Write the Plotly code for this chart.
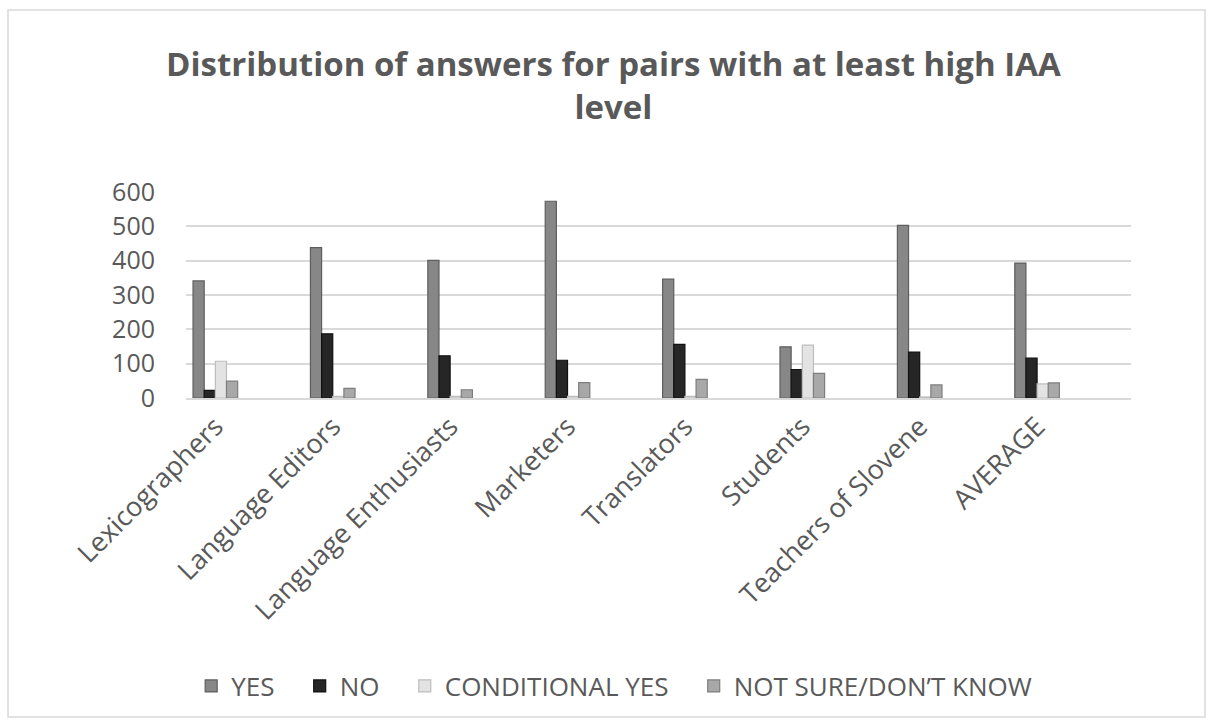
import plotly.graph_objects as go

# Groups of annotators and the answer counts per group
categories = ["Lexicographers", "Language Editors", "Language Enthusiasts", "Marketers",
              "Translators", "Students", "Teachers of Slovene", "AVERAGE"]
yes_vals = [341, 438, 401, 573, 346, 149, 503, 393]
no_vals = [22, 187, 123, 110, 156, 83, 134, 116]
cond_yes_vals = [107, 5, 5, 5, 5, 154, 3, 41]
not_sure_vals = [49, 28, 24, 45, 54, 72, 38, 44]

series = [
    ("YES", yes_vals, "#878787", "#5e5e5e"),
    ("NO", no_vals, "#262626", "#111111"),
    ("CONDITIONAL YES", cond_yes_vals, "#e3e3e3", "#bdbdbd"),
    ("NOT SURE/DON\u2019T KNOW", not_sure_vals, "#a8a8a8", "#7e7e7e"),
]

FONT = "Open Sans"
TEXT = "#595959"
PAD = "\u00a0" * 3  # extra room after each legend entry

# plot-area geometry in pixels
W, H = 1212, 727
L, R, T, B = 186, 1131, 192, 398

fig = go.Figure()
for name, vals, col, edge in series:
    fig.add_trace(go.Bar(
        x=categories, y=vals, name=name + PAD,
        marker=dict(color=col, line=dict(color=edge, width=1.2)),
    ))

def px_x(p):
    return (p - L) / (R - L)

def px_y(p):
    return (B - p) / (B - T)

# outer chart border
fig.add_shape(type="rect", xref="paper", yref="paper",
              x0=px_x(8), x1=px_x(1205), y0=px_y(717), y1=px_y(10),
              line=dict(color="#d9d9d9", width=1.5), fillcolor="rgba(0,0,0,0)", layer="below")

# chart title
fig.add_annotation(
    text="<b>Distribution of answers for pairs with at least high IAA<br>level</b>",
    xref="paper", yref="paper", x=px_x(613), y=px_y(39),
    xanchor="center", yanchor="top", showarrow=False, align="center",
    font=dict(family=FONT, size=33, color=TEXT),
)

fig.update_layout(
    width=W, height=H,
    margin=dict(l=L, r=W - R, t=T, b=H - B, autoexpand=False),
    paper_bgcolor="white", plot_bgcolor="white",
    barmode="group", bargap=0.62, bargroupgap=0.0,
    font=dict(family=FONT, color=TEXT),
    xaxis=dict(
        type="category", range=[-0.25, 7.8],
        tickangle=-45, tickfont=dict(size=27, color=TEXT),
        showgrid=False, showline=True, linecolor="#d9d9d9", linewidth=2,
        ticks="",
    ),
    yaxis=dict(
        range=[0, 600], dtick=100, tickfont=dict(size=25, color=TEXT),
        showgrid=True, gridcolor="#d9d9d9", gridwidth=2,
        zeroline=False, showline=False, ticks="", ticklabelstandoff=30,
    ),
    legend=dict(
        orientation="h", x=0.515, xanchor="center", xref="container",
        y=1 - 686 / H, yanchor="middle", yref="container",
        font=dict(size=26, color=TEXT), traceorder="normal", itemwidth=30,
    ),
    showlegend=True,
)

fig.write_html("out.html")
